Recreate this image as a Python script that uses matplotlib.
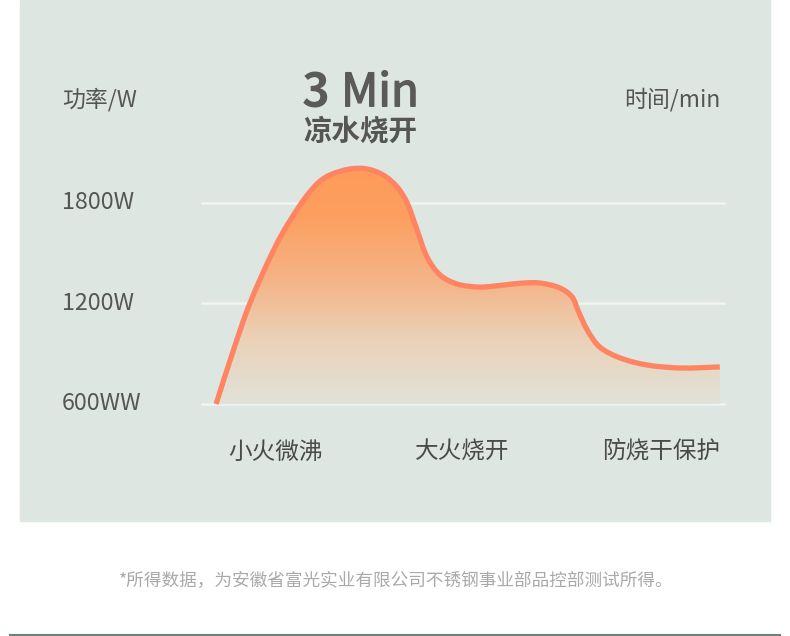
import numpy as np
import matplotlib.pyplot as plt
import matplotlib.patheffects as pe
from matplotlib.path import Path
from matplotlib.patches import PathPatch, Rectangle
from matplotlib.lines import Line2D
from matplotlib.colors import LinearSegmentedColormap

plt.rcParams['font.family'] = ['Noto Sans CJK SC', 'DejaVu Sans']

# power curve (time in axis units 0-10, power in W)
t = [0.27, 0.59, 0.92, 1.44, 1.88, 2.20, 2.45, 2.84, 3.16, 3.47, 3.74, 3.93,
     4.12, 4.31, 4.56, 4.89, 5.33, 5.77, 6.15, 6.48, 6.86, 7.09, 7.20, 7.38,
     7.62, 8.01, 8.52, 9.16, 9.92]
power = [600, 910, 1203, 1561, 1788, 1913, 1967, 2003, 2003, 1967, 1895, 1800,
         1639, 1478, 1370, 1316, 1298, 1310, 1322, 1322, 1292, 1239, 1161, 1042,
         940, 875, 833, 815, 821]

y_ticks = [600, 1200, 1800]
y_labels = ['600WW', '1200W', '1800W']
stages = ['小火微沸', '大火烧开', '防烧干保护']
stage_pos = [1.40, 4.98, 8.79]

W, H = 790, 636
XS, YS = 52.2, 5.97  # px per x unit, W per px


def fx(x):
    return x / W


def fy(y):
    return 1 - y / H


def smooth_path(xs, ys):
    # chord-length catmull-rom through the points, as cubic bezier pieces
    pts = np.column_stack([np.array(xs) * XS, np.array(ys) / YS])
    n = len(pts)
    d = np.hypot(*np.diff(pts, axis=0).T)
    tang = np.zeros_like(pts)
    tang[0] = (pts[1] - pts[0]) / d[0]
    tang[-1] = (pts[-1] - pts[-2]) / d[-1]
    for i in range(1, n - 1):
        tang[i] = (pts[i + 1] - pts[i - 1]) / (d[i - 1] + d[i])
    verts = [pts[0]]
    codes = [Path.MOVETO]
    for i in range(n - 1):
        c1 = pts[i] + tang[i] * d[i] / 3
        c2 = pts[i + 1] - tang[i + 1] * d[i] / 3
        verts += [c1, c2, pts[i + 1]]
        codes += [Path.CURVE4] * 3
    verts = [(v[0] / XS, v[1] * YS) for v in verts]
    return verts, codes


fig = plt.figure(figsize=(W / 100, H / 100), dpi=100)
fig.patch.set_facecolor('white')

# green panel
fig.add_artist(Rectangle((fx(20), fy(521)), 750 / W, 521 / H,
                         transform=fig.transFigure, color='#dee6e1', zorder=0))
fig.add_artist(Line2D([fx(10), fx(780)], [fy(634.5), fy(634.5)],
                      transform=fig.transFigure, color='#6f807a', lw=1.5))

ax = fig.add_axes([fx(202), fy(404), 522 / W, (404 - 152.7) / H])
ax.set_xlim(0, 10)
ax.set_ylim(600, 2100)
ax.axis('off')
ax.patch.set_alpha(0)

for yv in y_ticks:
    ax.axhline(yv, color='#f1f4f1', lw=1.8, zorder=1, clip_on=False)

verts, codes = smooth_path(t, power)

# area under the curve with a vertical gradient
fill_verts = verts + [(t[-1], 600), (t[0], 600), verts[0]]
fill_codes = codes + [Path.LINETO, Path.LINETO, Path.CLOSEPOLY]
clip = PathPatch(Path(fill_verts, fill_codes), facecolor='none',
                 edgecolor='none', transform=ax.transData)
ax.add_patch(clip)

cmap = LinearSegmentedColormap.from_list('heat', [
    (0.0, '#e1e2d9'), (0.28, '#ebd1b7'), (0.52, '#f4b487'),
    (0.8, '#fd9f5f'), (1.0, '#ff9b5a')])
grad = np.linspace(0, 1, 256).reshape(-1, 1)
im = ax.imshow(grad, extent=[0, 10, 600, 2010], origin='lower', cmap=cmap,
               aspect='auto', zorder=2)
im.set_clip_path(clip)

line = PathPatch(Path(verts, codes), facecolor='none', edgecolor='#ff8462',
                 lw=3.8, zorder=3, clip_on=False, capstyle='butt')
ax.add_patch(line)

# labels
txt = '#555555'
fig.text(fx(62), fy(100), '功率/W', fontsize=16.5, color=txt, va='center', ha='left')
fig.text(fx(720), fy(100), '时间/min', fontsize=16.5, color=txt, va='center', ha='right')
fig.text(fx(302), fy(93), '3', fontsize=34, color='#5a5a5a', va='center',
         ha='left', fontweight='bold')
fig.text(fx(419), fy(93), 'Min', fontsize=33, color='#5a5a5a', va='center',
         ha='right', path_effects=[pe.withStroke(linewidth=1.0, foreground='#5a5a5a')])
fig.text(fx(360), fy(132), '凉水烧开', fontsize=20.5, color='#555555', va='center',
         ha='center', fontweight='bold')

for yv, lab in zip(y_ticks, y_labels):
    ax.text(-140 / XS, yv, lab, fontsize=16.8, color=txt, va='center', ha='left')

for xp, lab in zip(stage_pos, stages):
    ax.text(xp, 600 - 48 * YS, lab, fontsize=17, color='#4a4a4a',
            va='center', ha='center')

fig.text(fx(396), fy(581), '*所得数据，为安徽省富光实业有限公司不锈钢事业部品控部测试所得。',
         fontsize=12.7, color='#a9a9a9', va='center', ha='center')

fig.savefig('out.png', dpi=100, facecolor='white')
